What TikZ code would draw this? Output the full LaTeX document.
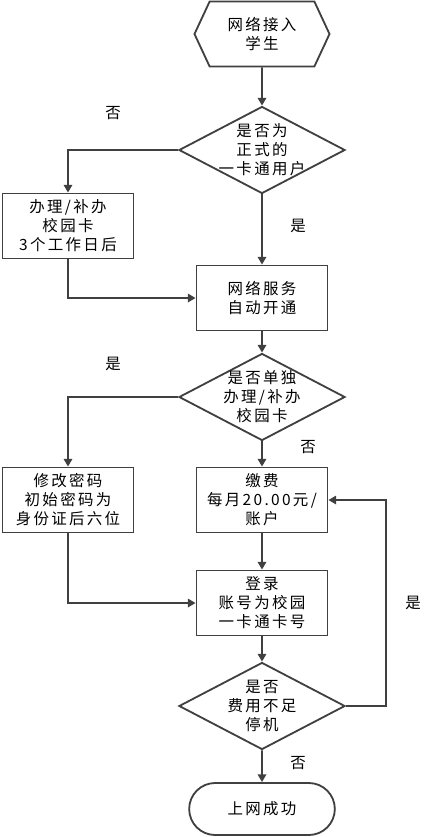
\documentclass[tikz,border=0pt]{standalone}
\usepackage{fontspec}
\setmainfont[LetterSpace=15]{Noto Sans CJK SC}
\usetikzlibrary{shapes.geometric,shapes.misc,shapes.symbols,arrows.meta}

\begin{document}
\begin{tikzpicture}[x=0.025cm,y=-0.025cm,
    every node/.style={font=\fontsize{11}{13.5}\selectfont,align=center},
    box/.style={draw=black!75,line width=1.3pt,minimum width=3.275cm,minimum height=1.625cm,inner sep=0pt},
    choice/.style={draw=black!75,line width=1.3pt,diamond,aspect=1.9,inner sep=-8pt,minimum width=4.15cm,minimum height=2.175cm},
    startbox/.style={draw=black!75,line width=1.3pt,signal,signal to=west and east,signal pointer angle=130,minimum width=3.375cm,minimum height=1.625cm,inner sep=0pt},
    endbox/.style={draw=black!75,line width=1.3pt,rounded rectangle,minimum width=3.875cm,minimum height=1.3cm},
    flow/.style={draw=black!75,line width=1.3pt,-{Triangle[length=5.5pt,width=6pt]}}]
    \useasboundingbox (0,0) rectangle (433,837);
    % shapes
    \node[startbox] (start) at (262,34) {网络接入\\学生};
    \node[choice] (card) at (262,150) {是否为\\正式的\\一卡通用户};
    \node[box] (apply) at (68,226) {办理/补办\\校园卡\\3个工作日后};
    \node[box] (open) at (262,298) {网络服务\\自动开通};
    \node[choice] (alone) at (262,397) {是否单独\\办理/补办\\校园卡};
    \node[box] (pwd) at (68,500) {修改密码\\初始密码为\\身份证后六位};
    \node[box] (fee) at (262,500) {缴费\\每月20.00元/\\账户};
    \node[box] (login) at (262,603) {登录\\账号为校园\\一卡通卡号};
    \node[choice] (stop) at (262,706) {是否\\费用不足\\停机};
    \node[endbox] (done) at (262,809) {上网成功};
    % labels
    \node (no1) at (113,113) {否};
    \node (yes1) at (298,226) {是};
    \node (yes2) at (113,364) {是};
    \node (no2) at (308,447) {否};
    \node (yes3) at (413,603) {是};
    \node (no3) at (298,763) {否};
    % arrows
    \draw[flow] (start) -- (card);
    \draw[flow] (card.west) -| (apply.north);
    \draw[flow] (card) -- (open);
    \draw[flow] (apply.south) |- (open.west);
    \draw[flow] (open) -- (alone);
    \draw[flow] (alone.west) -| (pwd.north);
    \draw[flow] (alone) -- (fee);
    \draw[flow] (fee) -- (login);
    \draw[flow] (pwd.south) |- (login.west);
    \draw[flow] (login) -- (stop);
    \draw[flow] (stop.east) -- ++(40,0) |- (fee.east);
    \draw[flow] (stop) -- (done);
\end{tikzpicture}
\end{document}
